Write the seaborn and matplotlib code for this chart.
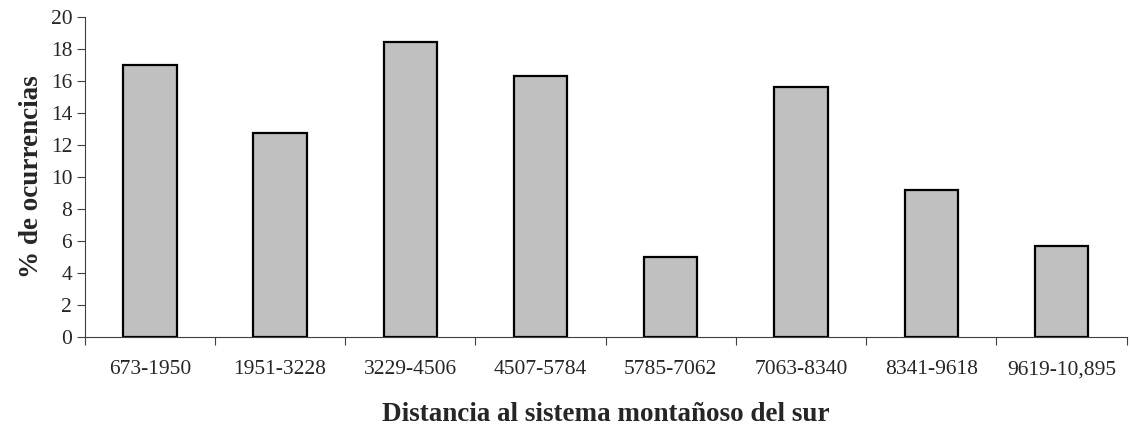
import matplotlib
matplotlib.use("Agg")
import matplotlib.pyplot as plt
import seaborn as sns
import pandas as pd

# distance classes and % of occurrences
rangos = ["673-1950", "1951-3228", "3229-4506", "4507-5784",
          "5785-7062", "7063-8340", "8341-9618", "9619-10,895"]
porcentaje = [17.0, 12.75, 18.42, 16.3, 4.98, 15.6, 9.19, 5.69]

df = pd.DataFrame({"rango": rangos, "pct": porcentaje})

sns.set_style("ticks")
plt.rcParams['font.family'] = ['Liberation Serif', 'DejaVu Serif']

fig = plt.figure(figsize=(11.3, 4.28), dpi=100)
ax = fig.add_axes([0.075, 0.213, 0.922, 0.748])

sns.barplot(data=df, x="rango", y="pct", color="#c0c0c0", edgecolor="black",
            linewidth=1.6, width=0.41, saturation=1, ax=ax)

ax.set_xlim(-0.5, len(rangos) - 0.5)
ax.set_ylim(0, 20)
ax.set_yticks(range(0, 21, 2))

# tick marks sit between categories, labels in the middle
ax.set_xticks([i - 0.5 for i in range(len(rangos) + 1)])
ax.set_xticklabels([])
ax.set_xticks(range(len(rangos)), minor=True)
ax.set_xticklabels(rangos, minor=True)
ax.tick_params(axis="x", which="minor", length=0, pad=17, labelsize=15.5)
ax.tick_params(axis="x", which="major", length=6, width=0.8, color="#404040")
ax.tick_params(axis="y", length=6, width=0.8, color="#404040", labelsize=15.5, pad=3)

for s in ["top", "right"]:
    ax.spines[s].set_visible(False)
for s in ["left", "bottom"]:
    ax.spines[s].set_linewidth(0.8)
    ax.spines[s].set_color("#404040")

ax.set_xlabel("Distancia al sistema montañoso del sur", fontsize=19.5,
              fontweight="bold", labelpad=16)
ax.set_ylabel("% de ocurrencias", fontsize=19.5, fontweight="bold", labelpad=5)

fig.savefig("out.png", dpi=100)
